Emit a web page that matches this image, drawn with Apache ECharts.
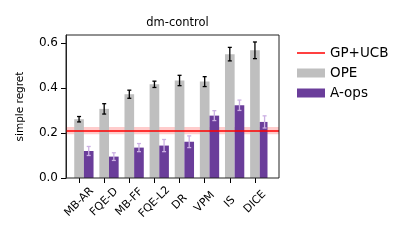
<!DOCTYPE html>
<html><head><meta charset="utf-8">
<script src="https://cdn.jsdelivr.net/npm/echarts@6/dist/echarts.min.js"></script>
<style>html,body{margin:0;padding:0;background:#fff}#c{width:415px;height:244px}</style>
</head><body><div id="c"></div>
<script>
const categories = ['MB-AR','FQE-D','MB-FF','FQE-L2','DR','VPM','IS','DICE'];
const opeValues = [0.261,0.307,0.372,0.416,0.433,0.428,0.550,0.567];
const opeErrors = [0.012,0.023,0.018,0.014,0.023,0.022,0.030,0.037];
const aopsValues = [0.120,0.095,0.135,0.144,0.161,0.277,0.323,0.249];
const aopsErrors = [0.020,0.017,0.018,0.027,0.026,0.022,0.023,0.027];
const gpucbValue = 0.210;
const gpucbError = 0.016;
const yTicks = [0.0,0.2,0.4,0.6];

const FONT = 'DejaVu Sans';
const YMAX = 0.635;
const BARFRAC = 0.384;
const chart = echarts.init(document.getElementById('c'), null, {renderer:'canvas'});

function errSeries(name, vals, errs, offsetFrac, color){
  return {
    type:'custom', name: name, xAxisIndex:1, yAxisIndex:1, z:5, silent:true,
    data: vals.map((v,i)=>[i, v, errs[i]]),
    encode:{x:0,y:1},
    renderItem:function(params, api){
      const i = api.value(0), v = api.value(1), e = api.value(2);
      const bw = api.size([1,0])[0]*BARFRAC;
      const top = api.coord([i, v+e]);
      const bot = api.coord([i, v-e]);
      const x = top[0] + offsetFrac*bw;
      const cw = 2;
      const st = {stroke: color, lineWidth: 1.3};
      return {type:'group', children:[
        {type:'line', shape:{x1:x,y1:top[1],x2:x,y2:bot[1]}, style:st},
        {type:'line', shape:{x1:x-cw,y1:top[1],x2:x+cw,y2:top[1]}, style:st},
        {type:'line', shape:{x1:x-cw,y1:bot[1],x2:x+cw,y2:bot[1]}, style:st}
      ]};
    }
  };
}

const option = {
  animation:false,
  backgroundColor:'#fff',
  textStyle:{fontFamily:FONT},
  title:{text:'dm-control', left:172.5, textAlign:'center', top:12,
    textStyle:{fontFamily:FONT, fontSize:11.5, fontWeight:'normal', color:'#000'}},
  legend:[
    {data:[{name:'GP+UCB', icon:'rect'}], left:297, top:46, padding:0, itemWidth:28, itemHeight:1.5, itemGap:11,
     textStyle:{fontFamily:FONT, fontSize:13.5, color:'#000'}, selectedMode:false},
    {data:[{name:'OPE', icon:'rect'}], left:297, top:66, padding:0, itemWidth:28, itemHeight:9, itemGap:11,
     textStyle:{fontFamily:FONT, fontSize:13.5, color:'#000'}, selectedMode:false},
    {data:[{name:'A-ops', icon:'rect'}], left:297, top:86, padding:0, itemWidth:28, itemHeight:9, itemGap:11,
     textStyle:{fontFamily:FONT, fontSize:13.5, color:'#000'}, selectedMode:false}
  ],
  grid:[
    {left:66, top:35, width:213, height:143, show:true, borderColor:'#222', borderWidth:1, backgroundColor:'transparent', z:10},
    {left:66.5, top:35, width:201, height:143, show:false}
  ],
  xAxis:[
    {type:'value', gridIndex:0, min:0, max:1, show:false},
    {type:'category', gridIndex:1, data:categories,
     axisLine:{show:false},
     axisTick:{show:true, alignWithLabel:true, length:5, lineStyle:{color:'#000', width:1}},
     axisLabel:{rotate:45, align:'center', verticalAlign:'middle', margin:24, fontFamily:FONT, fontSize:11, color:'#000', interval:0}}
  ],
  yAxis:[
    {type:'value', gridIndex:0, min:0, max:YMAX, interval:0.2,
     name:'simple regret', nameLocation:'middle', nameGap:40, nameRotate:90,
     nameTextStyle:{fontFamily:FONT, fontSize:10.5, color:'#000'},
     axisLine:{show:true, lineStyle:{color:'#222', width:1}},
     axisTick:{show:true, length:5, lineStyle:{color:'#000'}},
     splitLine:{show:false},
     axisLabel:{margin:8, fontFamily:FONT, fontSize:12, color:'#000', showMaxLabel:false,
       formatter:function(v){ const t = yTicks.find(x=>Math.abs(x-v)<1e-9); return t===undefined?'':t.toFixed(1);} }},
    {type:'value', gridIndex:1, min:0, max:YMAX, show:false}
  ],
  series:[
    {type:'bar', name:'_spacer', xAxisIndex:1, yAxisIndex:1, data:categories.map(()=>0), barWidth:(BARFRAC*100)+'%', barGap:'0%', itemStyle:{color:'rgba(0,0,0,0)'}, silent:true},
    {type:'bar', name:'OPE', xAxisIndex:1, yAxisIndex:1, data:opeValues, barWidth:(BARFRAC*100)+'%', barGap:'0%', itemStyle:{color:'#bfbfbf'}, silent:true, z:2},
    {type:'bar', name:'A-ops', xAxisIndex:1, yAxisIndex:1, data:aopsValues, barWidth:(BARFRAC*100)+'%', barGap:'0%', itemStyle:{color:'#6a3d9a'}, silent:true, z:2},
    errSeries('_opeErr', opeValues, opeErrors, 0, '#000'),
    errSeries('_aopsErr', aopsValues, aopsErrors, 1, '#cbb0e3'),
    {type:'line', name:'GP+UCB', xAxisIndex:0, yAxisIndex:0, data:[], color:'#ff0000', z:8,
     lineStyle:{color:'#ff0000'}, itemStyle:{color:'#ff0000'},
     markArea:{silent:true, itemStyle:{color:'rgba(255,0,0,0.2)'}, data:[[{yAxis:gpucbValue-gpucbError},{yAxis:gpucbValue+gpucbError}]]},
     markLine:{silent:true, symbol:'none', label:{show:false}, lineStyle:{color:'#ff0000', width:1.5, type:'solid'}, data:[{yAxis:gpucbValue}]}
    }
  ]
};
chart.setOption(option);
</script></body></html>
